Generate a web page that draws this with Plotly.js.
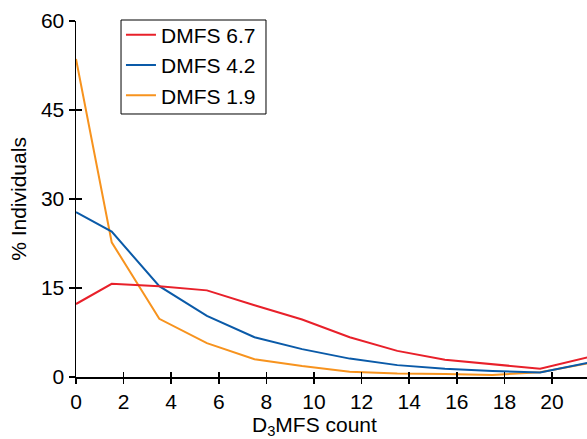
<!DOCTYPE html>
<html>
<head>
<meta charset="utf-8">
<script src="https://cdn.plot.ly/plotly-3.0.1.min.js"></script>
<style>html,body{margin:0;padding:0;background:#fff;}#chart{width:587px;height:439px;}</style>
</head>
<body>
<div id="chart"></div>
<script>
const xCounts = [0, 1.5, 3.5, 5.5, 7.5, 9.5, 11.5, 13.5, 15.5, 17.5, 19.5, 21.5];
const dmfs67 = [12.3, 15.7, 15.3, 14.6, 12.1, 9.7, 6.7, 4.4, 2.9, 2.2, 1.4, 3.3];
const dmfs42 = [27.8, 24.5, 15.3, 10.3, 6.7, 4.7, 3.1, 2.0, 1.4, 1.0, 0.75, 2.4];
const dmfs19 = [53.6, 22.7, 9.8, 5.7, 3.0, 1.85, 0.9, 0.6, 0.5, 0.35, 0.8, 2.3];
const seriesNames = ["DMFS 6.7", "DMFS 4.2", "DMFS 1.9"];
const xTicks = [0, 2, 4, 6, 8, 10, 12, 14, 16, 18, 20];
const yTicks = [0, 15, 30, 45, 60];
const xTitle = "D<sub>3</sub>MFS count";
const yTitle = "% Individuals";

const FONT = "Liberation Sans, Arial, Helvetica, sans-serif";
const FS = 21;
const colors = ["#e8202a", "#0a5aa8", "#f7931e"];
const data = [
  {x: xCounts, y: dmfs19, name: seriesNames[2], type: "scatter", mode: "lines", line: {color: colors[2], width: 2}},
  {x: xCounts, y: dmfs42, name: seriesNames[1], type: "scatter", mode: "lines", line: {color: colors[1], width: 2}},
  {x: xCounts, y: dmfs67, name: seriesNames[0], type: "scatter", mode: "lines", line: {color: colors[0], width: 2}}
];
const layout = {
  width: 587, height: 439,
  margin: {l: 76, r: 0, t: 21, b: 62},
  paper_bgcolor: "#fff", plot_bgcolor: "#fff",
  font: {family: FONT, size: FS, color: "#000"},
  showlegend: true,
  legend: {
    x: 0.088, y: 1.018, xanchor: "left", yanchor: "top",
    traceorder: "reversed",
    borderwidth: 0, bgcolor: "rgba(0,0,0,0)",
    font: {family: FONT, size: FS, color: "#000"}
  },
  shapes: [
    {type: "rect", xref: "paper", yref: "paper", x0: 0.0881, x1: 0.3718, y0: 0.7388, y1: 1.0028,
     line: {color: "#000", width: 1}, fillcolor: "#fff", layer: "above"}
  ],
  xaxis: {
    range: [0, 21.47], tickvals: xTicks, ticktext: xTicks.map(String),
    showgrid: false, zeroline: false, showline: true, linecolor: "#000", linewidth: 1.5,
    ticks: "outside", ticklen: 5, tickwidth: 1.5, tickcolor: "#000",
    tickfont: {family: FONT, size: FS}, fixedrange: true
  },
  xaxis2: {
    overlaying: "x", matches: "x", range: [0, 21.47], tickvals: xTicks, showticklabels: false,
    showgrid: false, zeroline: false, showline: false,
    ticks: "inside", ticklen: 5, tickwidth: 1.5, tickcolor: "#000"
  },
  yaxis: {
    range: [0, 60], tickvals: yTicks, ticktext: yTicks.map(String),
    showgrid: false, zeroline: false, showline: true, linecolor: "#000", linewidth: 1.5,
    ticks: "outside", ticklen: 6, tickwidth: 1.5, tickcolor: "#000",
    tickfont: {family: FONT, size: FS}, fixedrange: true,
    title: {text: yTitle, font: {family: FONT, size: FS}, standoff: 8}
  },
  yaxis2: {
    overlaying: "y", matches: "y", range: [0, 60], tickvals: yTicks, showticklabels: false,
    showgrid: false, zeroline: false, showline: false,
    ticks: "inside", ticklen: 6, tickwidth: 1.5, tickcolor: "#000"
  },
  annotations: [
    {text: xTitle, xref: "x", yref: "paper", x: 10, y: 0, yshift: -49, xanchor: "center", yanchor: "middle",
     showarrow: false, font: {family: FONT, size: FS, color: "#000"}}
  ]
};
// invisible helper trace on the overlay axes so the inward tick marks are drawn
data.push({x: [0], y: [0], xaxis: "x2", yaxis: "y2", type: "scatter", mode: "markers", marker: {opacity: 0}, showlegend: false, hoverinfo: "skip"});
Plotly.newPlot("chart", data, layout, {staticPlot: true, displayModeBar: false});
</script>
</body>
</html>
